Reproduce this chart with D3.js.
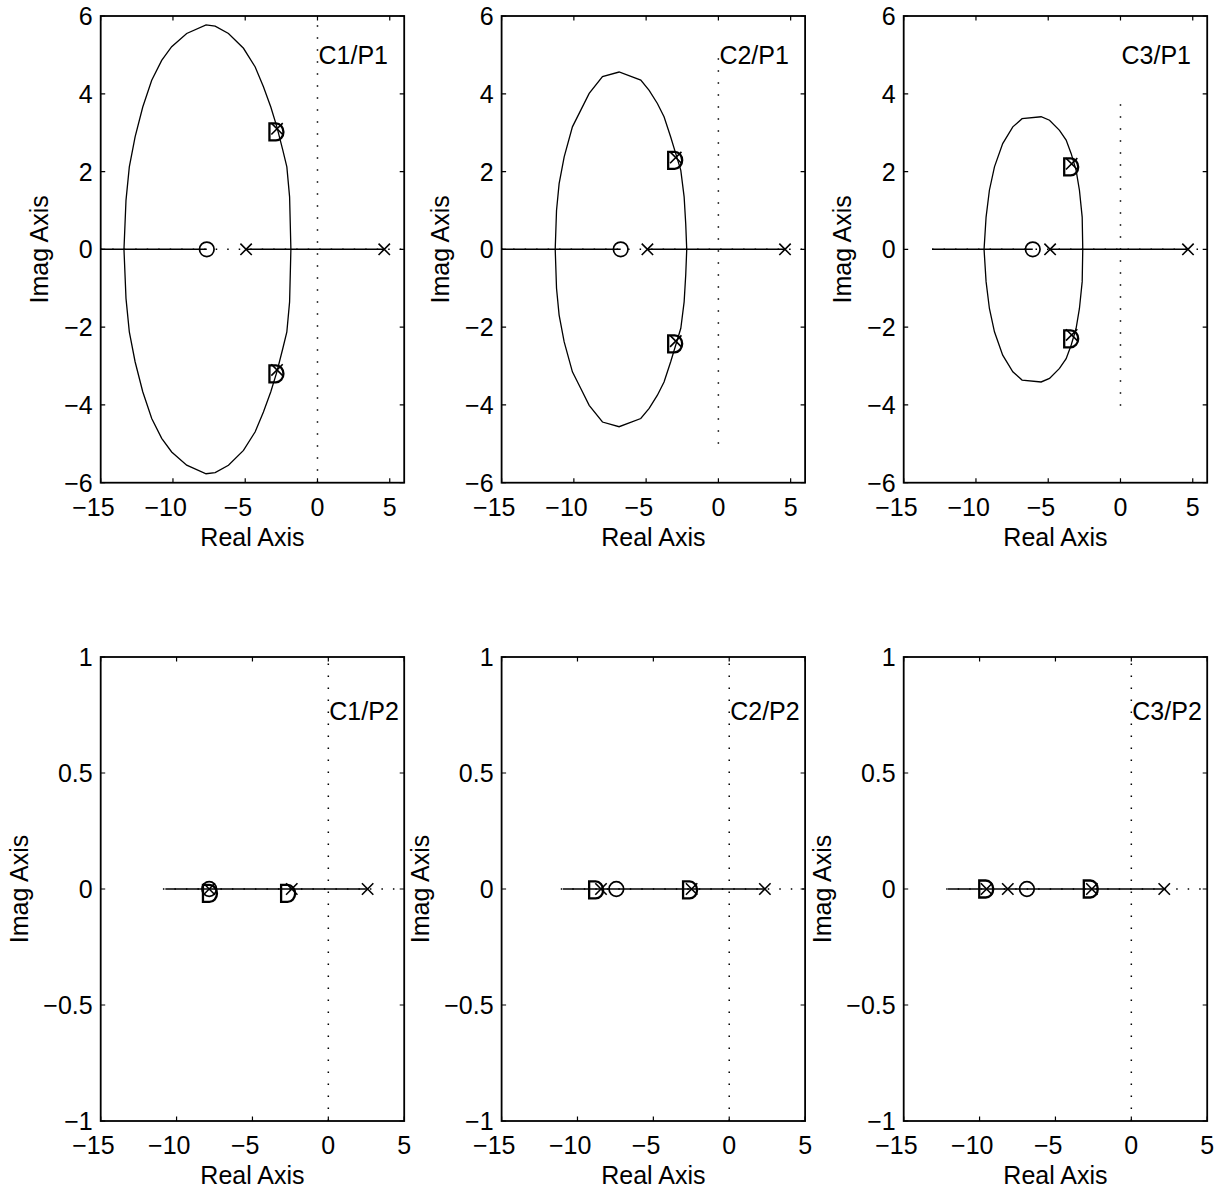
<!DOCTYPE html>
<html>
<head>
<meta charset="utf-8">
<script src="https://cdn.jsdelivr.net/npm/d3@7"></script>
<style>
body { margin: 0; background: #fff; }
text { font-family: "Liberation Sans", Arial, Helvetica, sans-serif; fill: #000; }
</style>
</head>
<body>
<div id="chart"></div>
<script>
var W = 1225, H = 1195;

// panel order: top row C1..C3 / P1, bottom row C1..C3 / P2
var titles = ["C1/P1", "C2/P1", "C3/P1", "C1/P2", "C2/P2", "C3/P2"];
var titlePos = [[0, 5], [0, 5], [0, 5], [0, 0.766], [0, 0.766], [0, 0.766]];
var xTicks = [-15, -10, -5, 0, 5];
var yTicksTop = [-6, -4, -2, 0, 2, 4, 6];
var yTicksBottom = [-1, -0.5, 0, 0.5, 1];
var xLimTop = [-15, 6], xLimBottom = [-15, 5];
var yLimTop = [-6, 6], yLimBottom = [-1, 1];

// upper half of the complex branch, [real, imag]; the lower half is its mirror
var locusC1P1 = [[-1.84, 0], [-1.93, 1.35], [-2.12, 2.12], [-2.40, 2.55], [-2.81, 3.15], [-3.23, 3.66],
  [-3.74, 4.18], [-4.31, 4.69], [-5.12, 5.17], [-6.16, 5.55], [-7.08, 5.74], [-7.71, 5.77], [-9.05, 5.55],
  [-10.09, 5.21], [-10.78, 4.86], [-11.47, 4.35], [-12.09, 3.66], [-12.62, 2.89], [-13.02, 2.12],
  [-13.25, 1.26], [-13.39, 0]];
var locusC2P1 = [[-2.19, 0], [-2.26, 0.66], [-2.37, 1.35], [-2.60, 2.03], [-2.95, 2.46], [-3.30, 2.89],
  [-3.76, 3.41], [-4.22, 3.75], [-4.79, 4.09], [-5.37, 4.35], [-6.87, 4.56], [-8.02, 4.44], [-8.94, 4.01],
  [-9.52, 3.58], [-10.10, 3.15], [-10.67, 2.38], [-11.02, 1.69], [-11.20, 1.00], [-11.29, 0]];
var locusC3P1 = [[-2.61, 0], [-2.65, 0.83], [-2.84, 1.52], [-3.07, 2.03], [-3.41, 2.46], [-3.76, 2.81],
  [-4.22, 3.06], [-4.91, 3.32], [-5.49, 3.41], [-6.81, 3.36], [-7.45, 3.15], [-8.15, 2.72], [-8.72, 2.12],
  [-9.07, 1.52], [-9.30, 0.83], [-9.44, 0]];
var complexLoci = [locusC1P1, locusC2P1, locusC3P1, null, null, null];

// real-axis branches (solid) and the dotted axis lines
var realBranches = [
  [[-15, -7.66], [-4.94, 4.62]],
  [[-15, -6.76], [-4.91, 4.61]],
  [[-13.04, -6.07], [-4.87, 4.67]],
  [[-10.74, 2.59]],
  [[-10.96, 2.35]],
  [[-12.08, 2.17]]
];
var realDotted = [[-15, 6], [-15, 6], [-13.04, 6], [-10.9, 5], [-11.1, 5], [-12.2, 5]];
var imagDotted = [[-6, 6], [-5, 5], [-4.02, 3.76], [-1, 1], [-1, 1], [-1, 1]];

// open-loop zeros (o), open-loop poles (x), closed-loop poles (D)
var zeros = [[-7.66], [-6.76], [-6.07], [-7.85], [-7.44], [-6.88]];
var poles = [
  [[-4.94, 0], [4.62, 0], [-2.8, 3.1], [-2.8, -3.1]],
  [[-4.91, 0], [4.61, 0], [-2.95, 2.36], [-2.95, -2.36]],
  [[-4.87, 0], [4.67, 0], [-3.38, 2.2], [-3.38, -2.2]],
  [[-7.85, 0], [-2.41, 0], [2.59, 0]],
  [[-8.45, 0], [-2.48, 0], [2.35, 0]],
  [[-9.54, 0], [-8.14, 0], [-2.6, 0], [2.17, 0]]
];
var closedPoles = [
  [[-2.84, 3.02], [-2.84, -3.2]],
  [[-2.99, 2.29], [-2.99, -2.43]],
  [[-3.41, 2.12], [-3.41, -2.30]],
  [[-7.8, -0.019], [-2.65, -0.019]],
  [[-8.77, -0.004], [-2.58, -0.004]],
  [[-9.56, 0], [-2.67, 0]]
];

var colLeft = [100.7, 501.6, 903.7];
var boxW = 303.5;
var rowTop = [16, 657];
var boxH = [466.7, 464];
var ylabelOff = [-53, -73];
var fs = 25;

var svg = d3.select("#chart").append("svg")
  .attr("width", W)
  .attr("height", H);

function absStr(v) {
  return String(Math.abs(v));
}

function drawPanel(i) {
  var row = i < 3 ? 0 : 1, col = i % 3;
  var x0 = colLeft[col], y0 = rowTop[row], h = boxH[row];
  var x = d3.scaleLinear().domain(row ? xLimBottom : xLimTop).range([x0, x0 + boxW]);
  var y = d3.scaleLinear().domain(row ? yLimBottom : yLimTop).range([y0 + h, y0]);
  var yTicks = row ? yTicksBottom : yTicksTop;
  var g = svg.append("g");

  // dotted axis lines
  g.append("line")
    .attr("x1", x(realDotted[i][0])).attr("x2", x(realDotted[i][1]))
    .attr("y1", y(0)).attr("y2", y(0))
    .attr("stroke", "#000").attr("stroke-width", 1.5)
    .attr("stroke-dasharray", "1.5,10");
  g.append("line")
    .attr("x1", x(0)).attr("x2", x(0))
    .attr("y1", y(imagDotted[i][0])).attr("y2", y(imagDotted[i][1]))
    .attr("stroke", "#000").attr("stroke-width", 1.5)
    .attr("stroke-dasharray", "1.5,10.5");

  // real axis branches
  realBranches[i].forEach(function(s) {
    g.append("line")
      .attr("x1", x(s[0])).attr("x2", x(s[1]))
      .attr("y1", y(0)).attr("y2", y(0))
      .attr("stroke", "#000").attr("stroke-width", 1.5);
  });

  // complex branch, upper and mirrored lower half
  var line = d3.line().x(function(d) { return x(d[0]); }).y(function(d) { return y(d[1]); });
  if (complexLoci[i]) {
    var up = complexLoci[i];
    var low = up.map(function(d) { return [d[0], -d[1]]; });
    [up, low].forEach(function(pts) {
      g.append("path")
        .attr("d", line(pts))
        .attr("fill", "none")
        .attr("stroke", "#000")
        .attr("stroke-width", 1.3);
    });
  }

  // zeros
  g.selectAll(".zero").data(zeros[i]).enter().append("circle")
    .attr("cx", function(d) { return x(d); })
    .attr("cy", y(0))
    .attr("r", 7.3)
    .attr("fill", "none").attr("stroke", "#000").attr("stroke-width", 1.7);

  // poles
  g.selectAll(".pole").data(poles[i]).enter().append("path")
    .attr("transform", function(d) { return "translate(" + x(d[0]) + "," + y(d[1]) + ")"; })
    .attr("d", "M-5.7,-5.7L5.7,5.7M-5.7,5.7L5.7,-5.7")
    .attr("fill", "none").attr("stroke", "#000").attr("stroke-width", 1.6);

  // closed-loop poles
  g.selectAll(".cl").data(closedPoles[i]).enter().append("path")
    .attr("transform", function(d) { return "translate(" + x(d[0]) + "," + y(d[1]) + ")"; })
    .attr("d", "M-7,-8.5H-0.5A7.5,8.5 0 0 1 -0.5,8.5H-7Z")
    .attr("fill", "none").attr("stroke", "#000").attr("stroke-width", 2.3);

  // box with inward ticks on all sides
  g.append("rect")
    .attr("x", x0).attr("y", y0).attr("width", boxW).attr("height", h)
    .attr("fill", "none").attr("stroke", "#000").attr("stroke-width", 1.8);
  var tl = 4.5;
  xTicks.forEach(function(t) {
    g.append("path")
      .attr("d", "M" + x(t) + "," + (y0 + h) + "v" + (-tl) + "M" + x(t) + "," + y0 + "v" + tl)
      .attr("stroke", "#000").attr("stroke-width", 1.2);
  });
  yTicks.forEach(function(t) {
    g.append("path")
      .attr("d", "M" + x0 + "," + y(t) + "h" + tl + "M" + (x0 + boxW) + "," + y(t) + "h" + (-tl))
      .attr("stroke", "#000").attr("stroke-width", 1.2);
  });

  // x tick labels: digits centred on the tick, minus hanging left
  xTicks.forEach(function(t) {
    var tx = g.append("text")
      .attr("x", x(t)).attr("y", y0 + h + 33)
      .attr("text-anchor", "middle")
      .style("font-size", fs + "px")
      .text(absStr(t));
    if (t < 0) {
      var w = tx.node().getComputedTextLength();
      g.append("text")
        .attr("x", x(t) - w / 2).attr("y", y0 + h + 33)
        .attr("text-anchor", "end")
        .style("font-size", fs + "px")
        .text("\u2212");
    }
  });
  yTicks.forEach(function(t) {
    g.append("text")
      .attr("x", x0 - 8).attr("y", y(t) + 9)
      .attr("text-anchor", "end")
      .style("font-size", fs + "px")
      .text((t < 0 ? "\u2212" : "") + absStr(t));
  });

  // axis labels
  g.append("text")
    .attr("x", x0 + boxW / 2).attr("y", y0 + h + 63)
    .attr("text-anchor", "middle")
    .style("font-size", fs + "px")
    .text("Real Axis");
  g.append("text")
    .attr("transform", "translate(" + (x0 + ylabelOff[row]) + "," + (y0 + h / 2) + ") rotate(-90)")
    .attr("text-anchor", "middle")
    .style("font-size", fs + "px")
    .text("Imag Axis");

  // panel tag
  g.append("text")
    .attr("x", x(titlePos[i][0]) + 1).attr("y", y(titlePos[i][1]) + 9)
    .style("font-size", fs + "px")
    .text(titles[i]);
}

for (var i = 0; i < 6; i++) drawPanel(i);
</script>
</body>
</html>
